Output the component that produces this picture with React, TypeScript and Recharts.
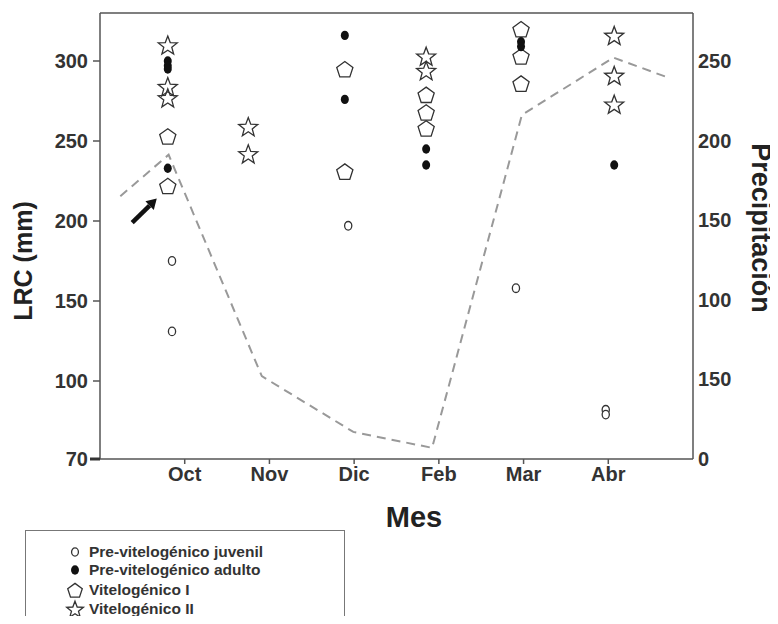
import React from 'react';
import {
    ComposedChart,
    Scatter,
    Line,
    XAxis,
    YAxis,
    ReferenceLine,
} from 'recharts';

const months = ['Oct', 'Nov', 'Dic', 'Feb', 'Mar', 'Abr'];
const monthTicks = [1, 2, 3, 4, 5, 6];
// where each month's samples sit along the x axis
const sampleX = [0.8, 1.75, 2.89, 3.85, 4.97, 6.07];
const juvenilX = [0.85, 1.75, 2.93, 3.85, 4.91, 5.97];

// LRC (mm) per month
const juvenil = [[175, 131], [], [197], [], [158], [82, 79]];
const adulto = [[300, 297, 295, 233], [], [316, 276], [245, 235], [312, 309], [235]];
const vitelogenicoI = [[253, 222], [], [295, 231], [279, 268, 258], [320, 303, 286], []];
const vitelogenicoII = [[310, 284, 277], [259, 242], [], [303, 294], [], [316, 291, 273]];

// precipitation line
const rainX = [0.24, 0.81, 1.91, 2.99, 3.92, 4.98, 6.06, 6.73];
const rainMm = [165, 191, 52, 17, 7, 216, 252, 239];

const leftTicks = [51.25, 100, 150, 200, 250, 300];
const rightTicks = [0, 50, 100, 150, 200, 250];

const toPoints = (vals: number[][], xs: number[]) =>
    vals.flatMap((col, i) => col.map((y) => ({ x: xs[i], y })));

const rainData = rainX.map((x, i) => ({ x, p: rainMm[i] }));

const FONT = '"Liberation Sans", Arial, Helvetica, sans-serif';
const INK = '#333';

const OpenCircle = ({ cx, cy, s = 1 }: any) => (
    <ellipse cx={cx} cy={cy} rx={3.6 * s} ry={4.3 * s} fill="#fff" stroke={INK} strokeWidth={1.3} />
);

const FilledDot = ({ cx, cy, s = 1 }: any) => (
    <ellipse cx={cx} cy={cy} rx={4 * s} ry={4.7 * s} fill="#111" />
);

const pentagonPath = (cx: number, cy: number, r: number) =>
    Array.from({ length: 5 }, (_, k) => {
        const a = ((-90 + k * 72) * Math.PI) / 180;
        return `${cx + r * Math.cos(a)},${cy + r * Math.sin(a) + 1}`;
    }).join(' ');

const starPath = (cx: number, cy: number, ro: number, ri: number) =>
    Array.from({ length: 10 }, (_, k) => {
        const a = ((-90 + k * 36) * Math.PI) / 180;
        const r = k % 2 === 0 ? ro : ri;
        return `${cx + r * Math.cos(a)},${cy + r * Math.sin(a) + 1}`;
    }).join(' ');

const Pentagon = ({ cx, cy, s = 1 }: any) => (
    <polygon points={pentagonPath(cx, cy, 8.5 * s)} fill="none" stroke={INK} strokeWidth={1.3} />
);

const Star = ({ cx, cy, s = 1 }: any) => (
    <polygon points={starPath(cx, cy, 10 * s, 4.2 * s)} fill="none" stroke={INK} strokeWidth={1.3} />
);

const Arrow = (props: any) => {
    const { x1, y1, x2, y2 } = props;
    const ang = Math.atan2(y2 - y1, x2 - x1);
    const len = 10;
    const bx = x2 - len * Math.cos(ang);
    const by = y2 - len * Math.sin(ang);
    const w = 6;
    const px = -Math.sin(ang) * w;
    const py = Math.cos(ang) * w;
    return (
        <g>
            <line x1={x1} y1={y1} x2={bx} y2={by} stroke="#111" strokeWidth={4.5} />
            <polygon
                points={`${x2},${y2} ${bx + px},${by + py} ${bx - px},${by - py}`}
                fill="#111"
            />
        </g>
    );
};

const tickStyle = { fill: INK, fontSize: 20, fontWeight: 700, fontFamily: FONT };

// left ticks: the bottom one is drawn longer and heavier
const LeftTick = (props: any) => {
    const { x, y, payload } = props;
    const v = payload.value;
    const bottom = v < 60;
    return (
        <g>
            {bottom && <line x1={x + 2} y1={y} x2={x + 12} y2={y} stroke="#333" strokeWidth={3} />}
            <text
                x={x}
                y={y}
                dy="0.355em"
                textAnchor="end"
                fill={INK}
                fontSize={20}
                fontWeight={700}
                fontFamily={FONT}
            >
                {bottom ? '70' : String(v)}
            </text>
        </g>
    );
};

const legendItems = [
    { label: 'Pre-vitelogénico juvenil', Shape: OpenCircle, top: 544, s: 0.95 },
    { label: 'Pre-vitelogénico adulto', Shape: FilledDot, top: 562, s: 1 },
    { label: 'Vitelogénico I', Shape: Pentagon, top: 582, s: 0.9 },
    { label: 'Vitelogénico II', Shape: Star, top: 601, s: 0.88 },
];

function App() {
    return (
        <div
            style={{
                position: 'relative',
                width: 770,
                height: 608,
                overflow: 'hidden',
                fontFamily: FONT,
            }}
        >
            <ComposedChart width={770} height={500} margin={{ top: 5, right: 0, bottom: 0, left: 0 }}>
                <XAxis
                    xAxisId="x"
                    type="number"
                    dataKey="x"
                    domain={[0, 7]}
                    ticks={monthTicks}
                    tickFormatter={(v: number) => months[v - 1]}
                    height={49}
                    tickSize={5}
                    tickMargin={3}
                    tick={tickStyle}
                    axisLine={{ stroke: '#555', strokeWidth: 1.5 }}
                    tickLine={{ stroke: '#555', strokeWidth: 1.5 }}
                />
                <YAxis
                    yAxisId="left"
                    dataKey="y"
                    domain={[51.25, 330]}
                    ticks={leftTicks}
                    allowDataOverflow
                    width={92}
                    tickSize={7}
                    tickMargin={5}
                    tick={(p: any) => <LeftTick {...p} />}
                    axisLine={{ stroke: '#555', strokeWidth: 1.5 }}
                    tickLine={{ stroke: '#555', strokeWidth: 1.5 }}
                />
                <YAxis
                    yAxisId="right"
                    orientation="right"
                    domain={[0, 280]}
                    ticks={rightTicks}
                    tickFormatter={(v: number) => (v === 50 ? '150' : String(v))}
                    allowDataOverflow
                    width={85}
                    tickLine={false}
                    tickSize={0}
                    tickMargin={5}
                    tick={tickStyle}
                    axisLine={{ stroke: '#555', strokeWidth: 1.5 }}
                />
                <ReferenceLine xAxisId="x" yAxisId="left" y={330} stroke="#555" strokeWidth={1.5} />
                <Line
                    xAxisId="x"
                    yAxisId="right"
                    data={rainData}
                    dataKey="p"
                    type="linear"
                    stroke="#999"
                    strokeWidth={2}
                    strokeDasharray="9 6"
                    dot={false}
                    isAnimationActive={false}
                />
                <Scatter
                    xAxisId="x"
                    yAxisId="left"
                    data={toPoints(vitelogenicoI, sampleX)}
                    dataKey="y"
                    shape={(p: any) => <Pentagon {...p} />}
                    isAnimationActive={false}
                />
                <Scatter
                    xAxisId="x"
                    yAxisId="left"
                    data={toPoints(vitelogenicoII, sampleX)}
                    dataKey="y"
                    shape={(p: any) => <Star {...p} />}
                    isAnimationActive={false}
                />
                <Scatter
                    xAxisId="x"
                    yAxisId="left"
                    data={toPoints(adulto, sampleX)}
                    dataKey="y"
                    shape={(p: any) => <FilledDot {...p} />}
                    isAnimationActive={false}
                />
                <Scatter
                    xAxisId="x"
                    yAxisId="left"
                    data={toPoints(juvenil, juvenilX)}
                    dataKey="y"
                    shape={(p: any) => <OpenCircle {...p} />}
                    isAnimationActive={false}
                />
                <ReferenceLine
                    xAxisId="x"
                    yAxisId="left"
                    segment={[{ x: 0.38, y: 199 }, { x: 0.67, y: 214 }]}
                    shape={(p: any) => <Arrow {...p} />}
                />
            </ComposedChart>

            {/* axis titles */}
            <div
                style={{
                    position: 'absolute',
                    left: 15,
                    top: 253,
                    transform: 'translate(-50%, -50%) rotate(-90deg)',
                    whiteSpace: 'nowrap',
                    fontSize: 25,
                    fontWeight: 700,
                    color: '#222',
                }}
            >
                LRC (mm)
            </div>
            <div
                style={{
                    position: 'absolute',
                    left: 752,
                    top: 220,
                    transform: 'translate(-50%, -50%) rotate(90deg)',
                    whiteSpace: 'nowrap',
                    fontSize: 27,
                    fontWeight: 700,
                    color: '#222',
                }}
            >
                Precipitación
            </div>
            <div
                style={{
                    position: 'absolute',
                    left: 406,
                    top: 509,
                    transform: 'translate(-50%, -50%)',
                    whiteSpace: 'nowrap',
                    fontSize: 29,
                    fontWeight: 700,
                    color: '#222',
                }}
            >
                Mes
            </div>

            {/* legend box */}
            <div
                style={{
                    position: 'absolute',
                    left: 17,
                    top: 522,
                    width: 318,
                    height: 120,
                    border: '1.5px solid #777',
                    borderBottom: 'none',
                }}
            />
            {legendItems.map(({ label, Shape, top, s }) => (
                <div
                    key={label}
                    style={{
                        position: 'absolute',
                        left: 57,
                        top: top - 10,
                        height: 20,
                        display: 'flex',
                        alignItems: 'center',
                        whiteSpace: 'nowrap',
                        fontSize: 15.5,
                        fontWeight: 700,
                        color: '#333',
                    }}
                >
                    <svg width={22} height={20}>
                        <Shape cx={10} cy={10} s={s} />
                    </svg>
                    <span style={{ marginLeft: 2 }}>{label}</span>
                </div>
            ))}
        </div>
    );
}

export default App;
